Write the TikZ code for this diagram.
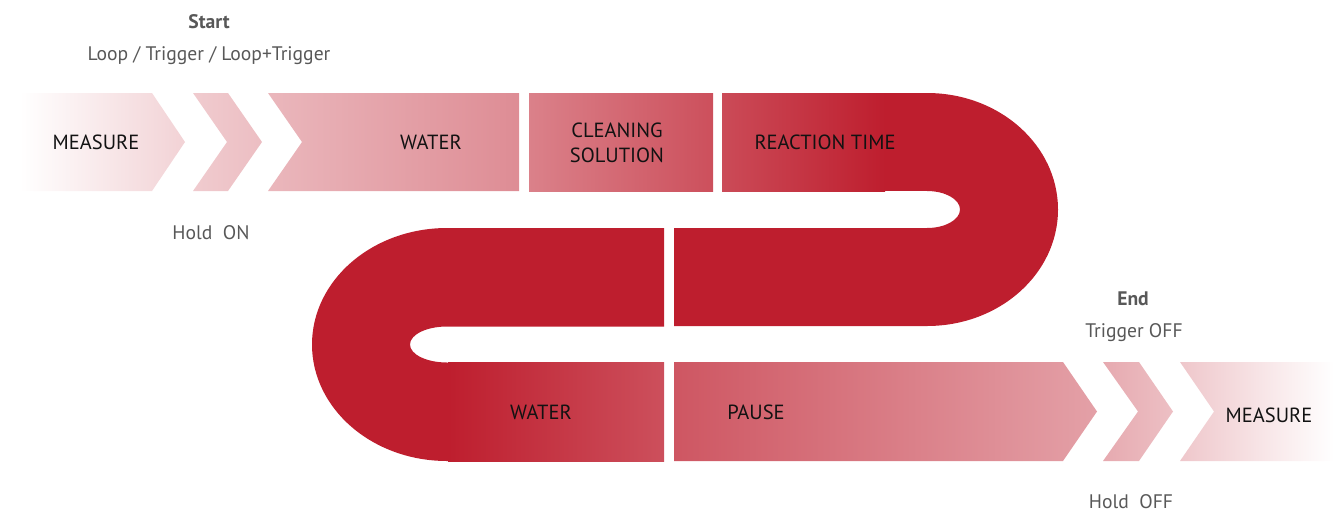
\documentclass[tikz,border=0pt]{standalone}
\usepackage{fontspec}
\setmainfont{PT Sans}
\usetikzlibrary{positioning}
\definecolor{cred}{RGB}{190,30,46}
\definecolor{capgray}{RGB}{88,88,88}
\definecolor{lbltext}{RGB}{18,18,18}

\begin{document}
\begin{tikzpicture}[x=1pt,y=-1pt, every node/.style={inner sep=0pt,anchor=base}]
    \tikzset{lbl/.style={text=lbltext,align=center,font=\fontsize{20.5}{25}\selectfont}}
    \tikzset{captxt/.style={text=capgray,font=\fontsize{19.6}{23}\selectfont}}
    \tikzset{captxtb/.style={text=capgray,font=\fontsize{19.6}{23}\selectfont\bfseries}}
    \tikzset{uturn/.style={fill=cred}}

    \useasboundingbox (0,0) rectangle (1334,515);

    % Top band
    \shade[left color=white,right color=cred!20] (20,93) -- (152,93) -- (185,142) -- (152,191) -- (20,191) -- cycle;
    \shade[left color=cred!23,right color=cred!29] (193,93) -- (228,93) -- (262,142) -- (228,191) -- (193,191) -- (227,142) -- cycle;
    \shade[left color=cred!32,right color=cred!51] (268,93) -- (519,93) -- (519,191) -- (268,191) -- (302,142) -- cycle;
    \shade[left color=cred!56,right color=cred!78] (529,93) rectangle (713,191);
    \shade[left color=cred!80,right color=cred] (722,93) rectangle (885,191);
    \fill[cred] (884,93) rectangle (928,191);

    % Right turn
    \fill[uturn] (927,93) arc[start angle=-90,end angle=90,x radius=131,y radius=116.5]
        -- (674,326) -- (674,228) -- (927,228)
        arc[start angle=90,end angle=-90,x radius=33,y radius=18.5] -- cycle;

    % Left turn
    \fill[uturn] (664,228) -- (447,228) arc[start angle=270,end angle=90,x radius=135,y radius=116.5]
        -- (449,461) -- (449,362.5) -- (447,362.5)
        arc[start angle=90,end angle=270,x radius=37,y radius=18] -- (664,326.5) -- cycle;

    % Bottom band
    \shade[left color=cred,right color=cred!78] (448,362) rectangle (664,461);
    \shade[left color=cred!75,right color=cred!42] (674,362) -- (1063,362) -- (1097,411.5) -- (1063,461) -- (674,461) -- cycle;
    \shade[left color=cred!38,right color=cred!28] (1103,362) -- (1139,362) -- (1173,411.5) -- (1139,461) -- (1103,461) -- (1138,411.5) -- cycle;
    \shade[left color=cred!25,right color=white] (1180,362) -- (1334,362) -- (1334,461) -- (1180,461) -- (1214,411.5) -- cycle;

    % Labels
    \node[lbl] (measL) at (96,149.5) {MEASURE};
    \node[lbl] (waterT) at (431,149.5) {WATER};
    \node[lbl] (clean) at (617,137.5) {CLEANING};
    \node[lbl] (solution) at (617,162.5) {SOLUTION};
    \node[lbl] (react) at (825,149.5) {REACTION TIME};
    \node[lbl] (waterB) at (541,419.5) {WATER};
    \node[lbl] (pause) at (756,419.5) {PAUSE};
    \node[lbl] (measR) at (1269,422.5) {MEASURE};

    % Start / End
    \node[captxtb] (start) at (209,28) {Start};
    \node[captxt] (startsub) at (209,60) {Loop / Trigger / Loop+Trigger};
    \node[captxt] (holdon) at (211,239) {Hold~~ON};
    \node[captxtb] (endn) at (1133,305) {End};
    \node[captxt] (endsub) at (1134,337) {Trigger OFF};
    \node[captxt] (holdoff) at (1131,508) {Hold~~OFF};
  \end{tikzpicture}
\end{document}
